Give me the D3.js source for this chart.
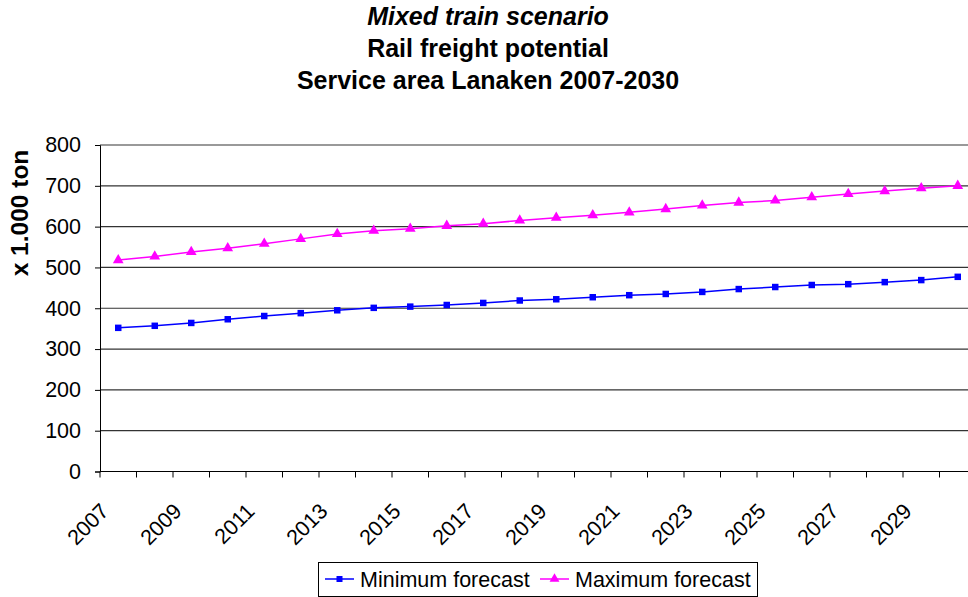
<!DOCTYPE html>
<html><head><meta charset="utf-8">
<script src="https://cdn.jsdelivr.net/npm/d3@7"></script>
<style>body{margin:0;background:#fff}svg{display:block;font-family:"Liberation Sans",Arial,sans-serif}</style>
</head><body><svg id="c" width="968" height="597"></svg>
<script>
const years = d3.range(2007, 2031).map(String);
const minForecast = [352,357,364,373,381,388,395,401,404,408,413,419,422,427,432,435,440,447,452,457,459,464,469,477];
const maxForecast = [518,527,538,547,558,570,582,590,595,602,607,615,622,628,635,643,652,659,664,672,680,687,694,700];
const yTicks = [0,100,200,300,400,500,600,700,800];
const seriesNames = ["Minimum forecast","Maximum forecast"];
const colors = ["#0000ff","#ff00ff"];
const titles = ["Mixed train scenario","Rail freight potential","Service area Lanaken 2007-2030"];

(function(){
const svg = d3.select("#c");
const pLeft = 100, pTop = 145, pBottom = 471.5, bw = 36.5;
const pRight = pLeft + bw * years.length;
const x = d3.scaleBand().domain(years).range([pLeft, pRight]);
const y = d3.scaleLinear().domain([0, 800]).range([pBottom, pTop]);

svg.selectAll("text.title").data(titles).join("text").attr("class","title")
  .attr("x", 488).attr("y", (d,i)=>25 + i*32)
  .attr("text-anchor","middle").attr("font-size",25).attr("font-weight","bold")
  .attr("font-style",(d,i)=>i===0?"italic":"normal").text(d=>d);

svg.append("g").selectAll("line").data(yTicks.filter(d=>d>0)).join("line")
  .attr("x1", pLeft).attr("x2", pRight).attr("y1", d=>y(d)).attr("y2", d=>y(d))
  .attr("stroke", "#000").attr("stroke-width", 1.2).attr("stroke-opacity",0.8);

const ya = svg.append("g").attr("transform",`translate(${pLeft},0)`)
  .call(d3.axisLeft(y).tickValues(yTicks).tickSize(5).tickPadding(14));
ya.selectAll("text").attr("font-size",21.5).attr("fill","#000").attr("font-family","Liberation Sans, Arial, sans-serif");
ya.select(".domain").attr("stroke","#000");

const xa = svg.append("g").attr("transform",`translate(0,${pBottom})`);
xa.append("line").attr("x1",pLeft).attr("x2",pRight).attr("stroke","#000").attr("stroke-width",1.2);
xa.selectAll("line.tk").data(years.concat(["end"])).join("line").attr("class","tk")
  .attr("x1",(d,i)=>pLeft+i*bw).attr("x2",(d,i)=>pLeft+i*bw).attr("y1",0).attr("y2",6)
  .attr("stroke","#000");
xa.selectAll("text").data(years.filter((d,i)=>i%2===0)).join("text")
  .attr("transform", d=>`translate(${x(d)+10},${41}) rotate(-45)`)
  .attr("text-anchor","end").attr("font-size",21.5).text(d=>d);

svg.append("text").attr("transform","translate(28,213) rotate(-90)")
  .attr("text-anchor","middle").attr("font-size",24.5).attr("font-weight","bold").text("x 1.000 ton");

const data = [minForecast, maxForecast];
const line = d3.line().x((d,i)=>x(years[i])+bw/2).y(d=>y(d));
data.forEach((vals, si) => {
  svg.append("path").attr("d", line(vals)).attr("fill","none").attr("stroke",colors[si]).attr("stroke-width",1.5);
  const sym = d3.symbol().type(si===0?d3.symbolSquare:d3.symbolTriangle).size(si===0?42:50);
  svg.append("g").selectAll("path").data(vals).join("path")
    .attr("transform",(d,i)=>`translate(${x(years[i])+bw/2},${y(d)})`)
    .attr("d", sym).attr("fill",colors[si]);
});

const lg = svg.append("g");
lg.append("rect").attr("x",318.5).attr("y",562.5).attr("width",439).attr("height",34)
  .attr("fill","#fff").attr("stroke","#000");
const items = [{x:325, tx:360},{x:540, tx:575}];
seriesNames.forEach((n,i)=>{
  const it = items[i];
  lg.append("line").attr("x1",it.x).attr("x2",it.x+29).attr("y1",579).attr("y2",579).attr("stroke",colors[i]).attr("stroke-width",1.5);
  lg.append("path").attr("transform",`translate(${it.x+14.5},579)`)
    .attr("d", d3.symbol().type(i===0?d3.symbolSquare:d3.symbolTriangle).size(i===0?36:42)).attr("fill",colors[i]);
  lg.append("text").attr("x",it.tx).attr("y",587).attr("font-size",21.5).text(n);
});
})();
</script></body></html>
